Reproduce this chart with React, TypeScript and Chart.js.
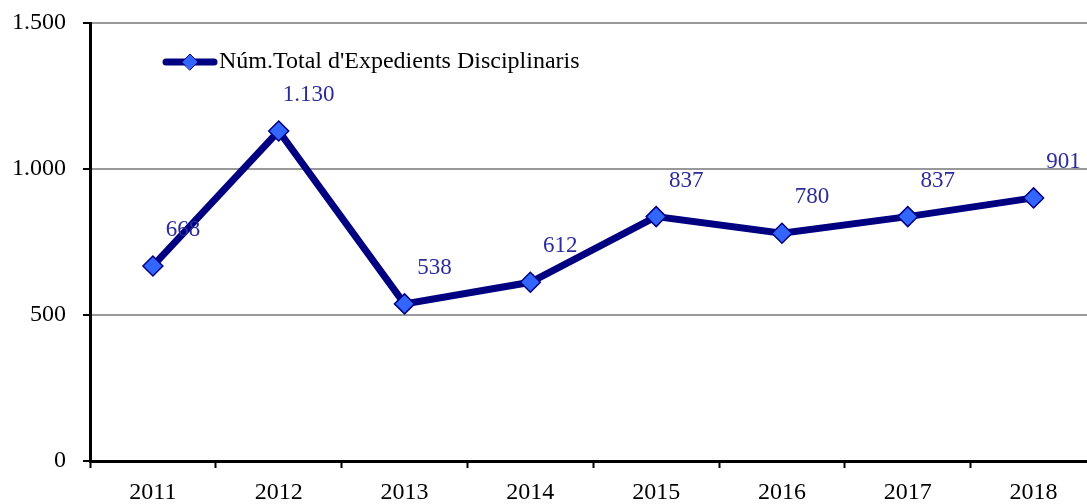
import React, { useEffect, useRef } from "react";
import { Chart, registerables } from "chart.js";

Chart.register(...registerables);

const years = ["2011", "2012", "2013", "2014", "2015", "2016", "2017", "2018"];
const expedients = [668, 1130, 538, 612, 837, 780, 837, 901];
const seriesLabel = "Núm.Total d'Expedients Disciplinaris";
const yTicks = [0, 500, 1000, 1500];

const FONT = "'Liberation Serif', 'DejaVu Serif', serif";
const NAVY = "#000080";
const MARK = "#3366ff";
const LABEL_COLOR = "#2b2b9b";

const fmt = (v: number) => {
  const s = Math.round(v).toString();
  return s.replace(/\B(?=(\d{3})+(?!\d))/g, ".");
};

const overlay = {
  id: "overlay",
  afterDatasetsDraw(chart: any) {
    const ctx = chart.ctx;
    const meta = chart.getDatasetMeta(0);
    ctx.save();
    // data labels
    ctx.font = `23px ${FONT}`;
    ctx.fillStyle = LABEL_COLOR;
    ctx.textAlign = "center";
    ctx.textBaseline = "middle";
    meta.data.forEach((pt: any, i: number) => {
      const v = expedients[i];
      ctx.fillText(fmt(v), pt.x + 30, pt.y - 36);
    });
    // legend
    const lx = 166;
    const ly = 62;
    ctx.strokeStyle = NAVY;
    ctx.lineWidth = 7;
    ctx.lineCap = "round";
    ctx.beginPath();
    ctx.moveTo(lx, ly);
    ctx.lineTo(lx + 48, ly);
    ctx.stroke();
    ctx.beginPath();
    const cx = lx + 24;
    const r = 8;
    ctx.moveTo(cx - r, ly);
    ctx.lineTo(cx, ly - r);
    ctx.lineTo(cx + r, ly);
    ctx.lineTo(cx, ly + r);
    ctx.closePath();
    ctx.fillStyle = MARK;
    ctx.fill();
    ctx.lineWidth = 1;
    ctx.strokeStyle = NAVY;
    ctx.stroke();
    ctx.font = `24px ${FONT}`;
    ctx.fillStyle = "#000";
    ctx.textAlign = "left";
    ctx.textBaseline = "middle";
    ctx.fillText(seriesLabel, lx + 53, ly);
    ctx.restore();
  },
};

export default function App() {
  const ref = useRef<HTMLCanvasElement>(null);
  useEffect(() => {
    document.body.style.margin = "0";
    document.body.style.overflow = "hidden";
    const chart = new Chart(ref.current!, {
      type: "line",
      data: {
        labels: years,
        datasets: [
          {
            label: seriesLabel,
            data: expedients,
            borderColor: NAVY,
            borderWidth: 7,
            backgroundColor: MARK,
            pointStyle: "rectRot",
            pointRadius: 10,
            pointBorderColor: NAVY,
            pointBorderWidth: 1.5,
            pointBackgroundColor: MARK,
            tension: 0,
          },
        ],
      },
      options: {
        responsive: false,
        animation: false,
        layout: { padding: { top: 23, right: 2, left: 0, bottom: 0 } },
        plugins: { legend: { display: false }, tooltip: { enabled: false } },
        scales: {
          x: {
            offset: true,
            grid: {
              offset: true,
              drawOnChartArea: false,
              tickLength: 7,
              tickColor: "#000",
              tickWidth: 2,
            },
            border: { color: "#000", width: 3 },
            ticks: {
              color: "#000",
              font: { family: FONT, size: 24 },
              padding: 10,
              maxRotation: 0,
            },
            afterFit: (s: any) => {
              s.height = 43;
              s.paddingLeft = 0;
              s.paddingRight = 0;
            },
          },
          y: {
            min: 0,
            max: 1500,
            afterBuildTicks: (s: any) => {
              s.ticks = yTicks.map((v) => ({ value: v }));
            },
            grid: {
              color: "#999999",
              lineWidth: 2,
              tickLength: 7,
              tickColor: "#000",
              tickWidth: 2,
            },
            border: { color: "#000", width: 3 },
            ticks: {
              color: "#000",
              font: { family: FONT, size: 24 },
              padding: 17,
              callback: (v: any) => fmt(Number(v)),
            },
            afterFit: (s: any) => {
              s.width = 90;
              s.paddingTop = 0;
              s.paddingBottom = 0;
            },
          },
        },
      },
      plugins: [overlay],
    });
    return () => chart.destroy();
  }, []);
  return (
    <div style={{ width: 1087, height: 504, overflow: "hidden", position: "relative" }}>
      <canvas ref={ref} width={1108} height={504} style={{ display: "block" }} />
    </div>
  );
}
